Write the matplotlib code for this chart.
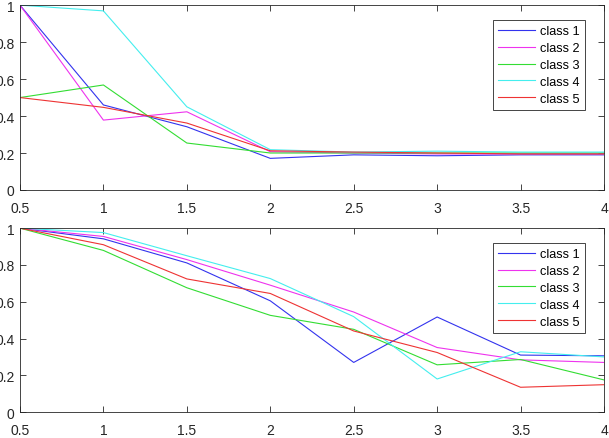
import matplotlib.pyplot as plt

plt.rcParams['font.family'] = ['Liberation Sans', 'DejaVu Sans']

x = [0.5, 1, 1.5, 2, 2.5, 3, 3.5, 4]
labels = ['class 1', 'class 2', 'class 3', 'class 4', 'class 5']
colors = ['#3333ee', '#ee33ee', '#33dd33', '#44eeee', '#ee3333']

top = [
    [1.0, 0.46, 0.342, 0.171, 0.19, 0.185, 0.19, 0.19],
    [1.0, 0.378, 0.423, 0.207, 0.2, 0.195, 0.195, 0.195],
    [0.5, 0.568, 0.254, 0.2, 0.2, 0.2, 0.2, 0.2],
    [1.0, 0.969, 0.45, 0.218, 0.205, 0.21, 0.205, 0.205],
    [0.5, 0.447, 0.362, 0.212, 0.205, 0.2, 0.195, 0.195],
]
bottom = [
    [1.0, 0.942, 0.811, 0.605, 0.27, 0.517, 0.31, 0.306],
    [1.0, 0.955, 0.829, 0.69, 0.544, 0.351, 0.284, 0.27],
    [1.0, 0.879, 0.676, 0.526, 0.45, 0.257, 0.286, 0.175],
    [1.0, 0.976, 0.85, 0.726, 0.519, 0.18, 0.328, 0.3],
    [1.0, 0.91, 0.724, 0.645, 0.441, 0.324, 0.135, 0.149],
]

fig = plt.figure(figsize=(6.09, 4.39), dpi=100)
ax1 = fig.add_axes([0.0328, 0.565, 0.959, 0.421])
ax2 = fig.add_axes([0.0328, 0.059, 0.959, 0.419])

for ax, data in [(ax1, top), (ax2, bottom)]:
    for d, c, l in zip(data, colors, labels):
        ax.plot(x, d, color=c, lw=0.8, label=l)
    ax.set_xlim(0.5, 4)
    ax.set_ylim(0, 1)
    ax.set_xticks([0.5, 1, 1.5, 2, 2.5, 3, 3.5, 4])
    ax.set_xticklabels(['0.5', '1', '1.5', '2', '2.5', '3', '3.5', '4'])
    ax.set_yticks([0, 0.2, 0.4, 0.6, 0.8, 1])
    ax.set_yticklabels(['0', '0.2', '0.4', '0.6', '0.8', '1'])
    ax.tick_params(direction='in', top=True, right=True, labelsize=10,
                   colors='#262626', length=4, width=0.6)
    ax.tick_params(axis='x', pad=8)
    ax.tick_params(axis='y', pad=4)
    for s in ax.spines.values():
        s.set_color('#262626')
        s.set_linewidth(0.6)
    leg = ax.legend(loc='upper right', bbox_to_anchor=(0.968, 0.922), fontsize=9.2,
                    fancybox=False, framealpha=1, edgecolor='#262626',
                    handlelength=2.9, borderpad=0.45, labelspacing=0.38,
                    handletextpad=0.35, borderaxespad=0)
    leg.get_frame().set_linewidth(0.6)

fig.savefig('out.png', dpi=100)
